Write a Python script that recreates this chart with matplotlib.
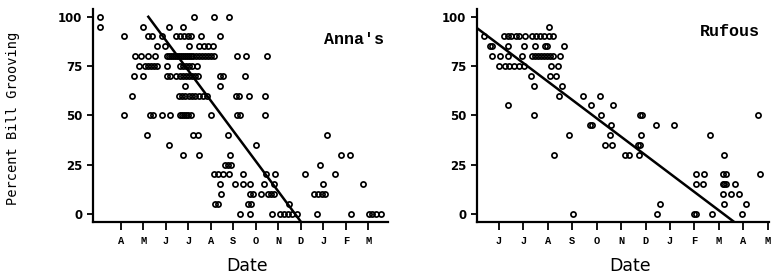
import matplotlib
matplotlib.use("Agg")
import matplotlib.pyplot as plt

# ---------------- Anna's (x: months since start of April) ----------------
anna_x_100 = [-0.92, 3.27, 4.13, 4.81]
anna_x_95 = [-0.91, 1.01, 2.16, 2.79]
anna_x_90 = [0.13, 1.21, 1.39, 1.84, 2.46, 2.64, 2.81, 2.99, 3.12, 3.56, 4.40]
anna_x_85 = [1.63, 1.97, 3.02, 3.49, 3.70, 3.89, 4.09]
anna_x_80 = [0.62, 0.92, 1.21, 1.54, 2.06, 2.15, 2.24, 2.33, 2.42, 2.51, 2.60,
             2.69, 2.78, 2.87, 2.96, 3.05, 3.14, 3.23, 3.36, 3.49, 3.62, 3.76,
             3.89, 4.02, 4.15, 5.18, 5.58, 6.50]
anna_x_75 = [0.81, 1.08, 1.21, 1.35, 1.48, 1.61, 2.04, 2.64, 2.77, 2.90, 3.04,
             3.17, 3.39]
anna_x_70 = [0.58, 0.98, 2.06, 2.19, 2.46, 2.64, 2.77, 2.90, 3.04, 3.17, 3.30,
             3.44, 4.40, 4.55, 5.54]
anna_x_65 = [2.87, 4.40]
anna_x_60 = [0.50, 2.59, 2.72, 2.86, 3.04, 3.17, 3.30, 3.48, 3.66, 3.84, 5.12,
             5.24, 5.70, 6.40]
anna_x_50 = [0.16, 1.32, 1.44, 1.84, 2.20, 2.64, 2.72, 2.81, 2.90, 2.99, 3.12,
             4.03, 5.15, 5.28, 6.40]
anna_x_40 = [1.17, 3.21, 3.44, 4.77, 9.17]
anna_x_35 = [2.16, 6.03]
anna_x_30 = [2.76, 3.47, 4.84, 9.78, 10.19]
anna_x_25 = [4.64, 4.77, 4.90, 8.86]
anna_x_20 = [4.15, 4.34, 4.53, 4.83, 5.44, 6.47, 6.84, 8.18, 9.51]
anna_x_15 = [4.40, 5.07, 5.44, 5.73, 6.37, 6.81, 9.00, 10.78]
anna_x_10 = [4.47, 5.75, 5.88, 6.22, 6.55, 6.68, 6.81, 8.59, 8.77, 8.95, 9.08]
anna_x_5 = [4.19, 4.32, 5.66, 5.77, 7.48]
anna_x_0 = [5.32, 5.73, 6.72, 7.08, 7.26, 7.44, 7.61, 7.84, 8.71, 10.22, 11.04,
            11.17, 11.33, 11.56]
anna_rows = {100: anna_x_100, 95: anna_x_95, 90: anna_x_90, 85: anna_x_85,
             80: anna_x_80, 75: anna_x_75, 70: anna_x_70, 65: anna_x_65,
             60: anna_x_60, 50: anna_x_50, 40: anna_x_40, 35: anna_x_35,
             30: anna_x_30, 25: anna_x_25, 20: anna_x_20, 15: anna_x_15,
             10: anna_x_10, 5: anna_x_5, 0: anna_x_0}
anna_line_x = [1.23, 8.0]
anna_line_y = [100, -4]
anna_ticks = ["A", "M", "J", "J", "A", "S", "O", "N", "D", "J", "F", "M"]

# ---------------- Rufous (x: months since start of June) ----------------
ruf_x_95 = [2.06]
ruf_x_90 = [-0.61, 0.22, 0.36, 0.49, 0.70, 0.83, 1.08, 1.35, 1.51, 1.68, 1.85,
            2.03, 2.22]
ruf_x_85 = [-0.37, -0.27, 0.37, 1.04, 1.49, 1.88, 1.96, 2.66]
ruf_x_80 = [-0.30, 0.04, 0.37, 0.95, 1.35, 1.47, 1.60, 1.72, 1.84, 1.96, 2.09,
            2.23, 2.50]
ruf_x_75 = [0.00, 0.23, 0.43, 0.63, 0.83, 1.02, 2.11, 2.42]
ruf_x_70 = [1.31, 2.09, 2.35]
ruf_x_65 = [1.43, 2.56]
ruf_x_60 = [2.46, 3.44, 4.15]
ruf_x_55 = [0.37, 3.77, 4.67]
ruf_x_50 = [1.43, 4.19, 5.78, 5.85, 10.61]
ruf_x_45 = [3.74, 3.81, 4.60, 6.43, 7.18]
ruf_x_40 = [2.88, 4.53, 5.81, 8.62]
ruf_x_35 = [4.33, 4.63, 5.71, 5.78]
ruf_x_30 = [2.25, 5.16, 5.33, 5.72, 9.19]
ruf_x_20 = [8.06, 8.37, 9.15, 9.29, 10.68]
ruf_x_15 = [8.08, 8.33, 9.15, 9.21, 9.28, 9.65]
ruf_x_10 = [9.18, 9.48, 9.82]
ruf_x_5 = [6.61, 9.21, 10.12]
ruf_x_0 = [3.05, 6.48, 7.98, 8.06, 8.73, 9.96]
ruf_rows = {95: ruf_x_95, 90: ruf_x_90, 85: ruf_x_85, 80: ruf_x_80,
            75: ruf_x_75, 70: ruf_x_70, 65: ruf_x_65, 60: ruf_x_60,
            55: ruf_x_55, 50: ruf_x_50, 45: ruf_x_45, 40: ruf_x_40,
            35: ruf_x_35, 30: ruf_x_30, 20: ruf_x_20, 15: ruf_x_15,
            10: ruf_x_10, 5: ruf_x_5, 0: ruf_x_0}
ruf_line_x = [-0.85, 9.58]
ruf_line_y = [93.8, -3.7]
ruf_ticks = ["J", "J", "A", "S", "O", "N", "D", "J", "F", "M", "A", "M"]

y_ticks = [0, 25, 50, 75, 100]

W, H = 774, 274
fig = plt.figure(figsize=(W / 100, H / 100), dpi=100, facecolor="white")


def make_axes(left_px, right_px, rows, line_x, line_y, ticks, xlim, title,
              title_xy):
    ax = fig.add_axes([left_px / W, 1 - 221.7 / H,
                       (right_px - left_px) / W, (221.7 - 9.3) / H])
    for yv, xs in rows.items():
        ax.plot(xs, [yv] * len(xs), linestyle="none", marker="o",
                markersize=3.7, markerfacecolor="none",
                markeredgecolor="black", markeredgewidth=1.25, zorder=3)
    ax.plot(line_x, line_y, color="black", linewidth=1.8, zorder=4)
    ax.set_xlim(*xlim)
    ax.set_ylim(-4, 103.8)
    ax.set_xticks(range(len(ticks)))
    ax.set_xticklabels(ticks, fontfamily="Liberation Mono",
                       fontweight="bold", fontsize=7.5)
    ax.set_yticks(y_ticks)
    ax.set_yticklabels([str(v) for v in y_ticks], fontfamily="DejaVu Sans",
                       fontweight="bold", fontsize=8.5)
    ax.tick_params(axis="x", length=5.5, width=1.3, pad=5, direction="out")
    ax.tick_params(axis="y", length=4, width=1.3, pad=3.5, direction="out")
    for s in ("top", "right"):
        ax.spines[s].set_visible(False)
    for s in ("left", "bottom"):
        ax.spines[s].set_linewidth(1.6)
    ax.text(title_xy[0], title_xy[1], title, transform=ax.transAxes,
            fontfamily="Liberation Mono", fontweight="bold", fontsize=12,
            ha="right", va="center")
    ax.set_facecolor("white")
    return ax


make_axes(92.7, 388, anna_rows, anna_line_x, anna_line_y, anna_ticks,
          (-1.24, 11.87), "Anna's", (0.985, 0.86))
make_axes(476.7, 769, ruf_rows, ruf_line_x, ruf_line_y, ruf_ticks,
          (-0.91, 11.05), "Rufous", (0.97, 0.895))

fig.text(246.7 / W, 1 - 265.7 / H, "Date", fontfamily="DejaVu Sans",
         fontsize=12.5, ha="center", va="center")
fig.text(629.7 / W, 1 - 265.7 / H, "Date", fontfamily="DejaVu Sans",
         fontsize=12.5, ha="center", va="center")
fig.text(13 / W, 1 - 118 / H, "Percent Bill Grooving",
         fontfamily="DejaVu Sans Mono", fontsize=9.8, rotation=90,
         ha="center", va="center")

fig.savefig("out.png", dpi=100, facecolor="white")
